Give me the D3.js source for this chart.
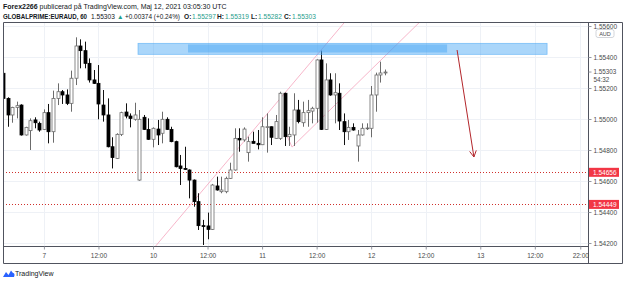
<!DOCTYPE html>
<html>
<head>
<meta charset="utf-8">
<script src="https://d3js.org/d3.v7.min.js"></script>
<style>
  body { margin: 0; background: #fff; }
  svg { display: block; font-family: "Liberation Sans", Arial, sans-serif; }
  .axis text { fill: #4a4a4a; font-size: 6.5px; }
  .axis line { stroke: #9598a1; }
  .axis path { display: none; }
</style>
</head>
<body>
<svg id="chart" width="625" height="283"></svg>
<script>
// EURAUD 60 min, bars from 6 May 15:00 to 12 May 03:00 (UTC), index 0 = 7 May 00:00
const firstBar = -9;
const opens = [1.55295,1.55133,1.55026,1.55075,1.55090,1.54897,1.54925,1.54994,1.54972,
  1.54933,1.55041,1.54918,1.55133,1.55176,1.55155,1.55101,1.55263,1.55471,1.55441,1.55359,1.55252,
  1.55230,1.55090,1.55026,1.54821,1.54746,1.54901,1.55045,1.55019,1.54998,1.54606,1.55011,1.54933,
  1.54869,1.54935,1.54908,1.54998,1.54933,1.54854,1.54697,1.54681,1.54671,1.54606,1.54467,1.54312,
  1.54310,1.54288,1.54568,1.54531,1.54531,1.54617,1.54671,1.54875,1.54865,1.54783,1.54856,1.54843,
  1.54834,1.54950,1.54950,1.54875,1.54875,1.55166,1.54886,1.54897,1.55058,1.54976,1.55041,1.55051,
  1.55069,1.55381,1.54933,1.55252,1.55155,1.55166,1.54983,1.54918,1.54946,1.54826,1.54897,1.54940,
  1.54940,1.55155,1.55284,1.55297];
const highs = [1.55299,1.55140,1.55079,1.55112,1.55095,1.54950,1.55004,1.55011,1.54983,
  1.55062,1.55097,1.55183,1.55230,1.55187,1.55191,1.55312,1.55527,1.55514,1.55499,1.55391,1.55316,
  1.55348,1.55187,1.55133,1.54882,1.54908,1.55047,1.55101,1.55036,1.55105,1.55058,1.55026,1.55004,
  1.54946,1.54994,1.55047,1.55011,1.54950,1.54860,1.54768,1.54821,1.54675,1.54610,1.54521,1.54349,
  1.54396,1.54581,1.54628,1.54628,1.54628,1.54718,1.54940,1.54940,1.54946,1.54886,1.54918,1.54929,
  1.55011,1.55036,1.54952,1.55026,1.55176,1.55170,1.54950,1.55166,1.55123,1.55112,1.55123,1.55079,
  1.55385,1.55441,1.55359,1.55295,1.55295,1.55230,1.55036,1.54994,1.54972,1.54929,1.54972,1.54972,
  1.55213,1.55299,1.55370,1.55319];
const lows = [1.55129,1.54950,1.54976,1.55004,1.54893,1.54893,1.54800,1.54940,1.54918,
  1.54929,1.54843,1.54847,1.55090,1.55097,1.55090,1.55047,1.55219,1.55327,1.55327,1.55235,1.55226,
  1.54998,1.54983,1.54817,1.54681,1.54742,1.54890,1.55004,1.54946,1.54989,1.54602,1.54929,1.54865,
  1.54817,1.54832,1.54843,1.54929,1.54850,1.54688,1.54574,1.54671,1.54488,1.54434,1.54284,1.54187,
  1.54224,1.54284,1.54538,1.54521,1.54521,1.54613,1.54667,1.54789,1.54854,1.54725,1.54843,1.54804,
  1.54832,1.54783,1.54832,1.54872,1.54865,1.54826,1.54826,1.54826,1.54972,1.54950,1.54950,1.54972,
  1.54976,1.54929,1.54929,1.55150,1.54972,1.54929,1.54832,1.54865,1.54925,1.54725,1.54893,1.54929,
  1.54882,1.55047,1.55235,1.55282];
const closes = [1.55133,1.55026,1.55075,1.55086,1.54897,1.54946,1.54989,1.54976,1.54929,
  1.55041,1.54918,1.55133,1.55176,1.55155,1.55101,1.55263,1.55471,1.55441,1.55359,1.55252,1.55230,
  1.55097,1.55026,1.54821,1.54751,1.54901,1.55041,1.55019,1.55004,1.55026,1.54998,1.54933,1.54869,
  1.54940,1.54897,1.54998,1.54933,1.54854,1.54692,1.54681,1.54675,1.54606,1.54467,1.54312,1.54306,
  1.54288,1.54574,1.54542,1.54542,1.54617,1.54671,1.54875,1.54865,1.54935,1.54854,1.54843,1.54834,
  1.54950,1.54950,1.54882,1.54983,1.55166,1.54886,1.54901,1.55058,1.54983,1.55041,1.55054,1.55069,
  1.55381,1.54933,1.55252,1.55155,1.55170,1.54987,1.54918,1.54946,1.54929,1.54897,1.54940,1.54942,
  1.55155,1.55284,1.55297,1.55303];

const timeTicks  = [0, 12, 24, 36, 48, 60, 72, 84, 96, 108, 118];
const timeLabels = ["7","12:00","10","12:00","11","12:00","12","12:00","13","12:00","22:00"];
const priceTicks = [1.542, 1.544, 1.546, 1.548, 1.550, 1.552, 1.554, 1.556];

const lastPrice = 1.55303;
const levels = [1.54656, 1.54449];

// drawings, in [bar index, price]
const zoneOuter = [[20.7, 1.55488], [110.7, 1.55417]];
const zoneInner = [[31.7, 1.55481], [88.7, 1.55429]];
const channelLines = [
  [[24.6, 1.54181], [66.2, 1.55626]],
  [[54.6, 1.54819], [82.7, 1.55626]],
  [[53.5, 1.54890], [54.6, 1.54819]]
];
const arrow = [[90.9, 1.55445], [94.6, 1.54755]];

const bars = opens.map((o, k) => ({i: firstBar + k, o: o, h: highs[k], l: lows[k], c: closes[k]}));

const plot = {left: 3, top: 22, right: 588, bottom: 246};
const svg = d3.select("#chart");

svg.append("rect").attr("width", 625).attr("height", 283).attr("fill", "#fff");

const x = d3.scaleLinear().domain([-9, 119.7]).range([plot.left, plot.right]);
const y = d3.scaleLinear().domain([1.542, 1.554]).range([243, 57]);

svg.append("clipPath").attr("id", "clip")
  .append("rect").attr("x", plot.left).attr("y", plot.top)
  .attr("width", plot.right - plot.left).attr("height", plot.bottom - plot.top);

// grid
const grid = svg.append("g").attr("clip-path", "url(#clip)");
grid.selectAll(".vg").data(timeTicks).enter().append("line")
  .attr("x1", d => Math.round(x(d)) + 0.5).attr("x2", d => Math.round(x(d)) + 0.5)
  .attr("y1", plot.top).attr("y2", plot.bottom)
  .attr("stroke", "#eef1f6");
grid.selectAll(".hg").data(priceTicks).enter().append("line")
  .attr("x1", plot.left).attr("x2", plot.right)
  .attr("y1", d => Math.round(y(d)) + 0.5).attr("y2", d => Math.round(y(d)) + 0.5)
  .attr("stroke", "#eef1f6");

const draw = svg.append("g").attr("clip-path", "url(#clip)");

// level lines
draw.selectAll(".lvl").data(levels).enter().append("line")
  .attr("x1", plot.left).attr("x2", plot.right)
  .attr("y1", d => Math.round(y(d)) + 0.5).attr("y2", d => Math.round(y(d)) + 0.5)
  .attr("stroke", "#d0312d").attr("stroke-dasharray", "1,2");

// channel
draw.selectAll(".ch").data(channelLines).enter().append("line")
  .attr("x1", d => x(d[0][0])).attr("y1", d => y(d[0][1]))
  .attr("x2", d => x(d[1][0])).attr("y2", d => y(d[1][1]))
  .attr("stroke", "#f5a3bd").attr("stroke-width", 0.8);

// candles
const bw = 3;
const cg = draw.append("g");
cg.selectAll(".wick").data(bars).enter().append("line")
  .attr("x1", d => Math.round(x(d.i)) + 0.5).attr("x2", d => Math.round(x(d.i)) + 0.5)
  .attr("y1", d => y(d.h)).attr("y2", d => y(d.l))
  .attr("stroke", d => d.c < d.o ? "#111" : "#6b6b6b");
cg.selectAll(".body").data(bars).enter().append("rect")
  .attr("x", d => Math.round(x(d.i)) - 1)
  .attr("width", bw)
  .attr("y", d => y(Math.max(d.o, d.c)))
  .attr("height", d => Math.max(0.8, Math.abs(y(d.o) - y(d.c))))
  .attr("fill", d => d.c < d.o ? "#000" : "#fff")
  .attr("stroke", d => d.c < d.o ? "#000" : "#6b6b6b")
  .attr("stroke-width", 0.8);

// zone boxes
draw.append("rect")
  .attr("x", x(zoneOuter[0][0])).attr("y", y(zoneOuter[0][1]))
  .attr("width", x(zoneOuter[1][0]) - x(zoneOuter[0][0]))
  .attr("height", y(zoneOuter[1][1]) - y(zoneOuter[0][1]))
  .attr("fill", "rgba(66,165,245,0.45)").attr("stroke", "rgba(66,165,245,0.6)").attr("stroke-width", 0.8);
draw.append("rect")
  .attr("x", x(zoneInner[0][0])).attr("y", y(zoneInner[0][1]))
  .attr("width", x(zoneInner[1][0]) - x(zoneInner[0][0]))
  .attr("height", y(zoneInner[1][1]) - y(zoneInner[0][1]))
  .attr("fill", "rgba(66,165,245,0.45)");

// arrow
const ax1 = x(arrow[0][0]), ay1 = y(arrow[0][1]), ax2 = x(arrow[1][0]), ay2 = y(arrow[1][1]);
const ang = Math.atan2(ay2 - ay1, ax2 - ax1);
const hl = 7;
draw.append("path")
  .attr("d", `M${ax1},${ay1}L${ax2},${ay2}` +
    `M${ax2 - hl * Math.cos(ang - 0.5)},${ay2 - hl * Math.sin(ang - 0.5)}L${ax2},${ay2}` +
    `L${ax2 - hl * Math.cos(ang + 0.5)},${ay2 - hl * Math.sin(ang + 0.5)}`)
  .attr("fill", "none").attr("stroke", "#b3262b").attr("stroke-width", 1);

// frame
svg.append("path")
  .attr("d", `M3.5,22.5H622.5V263.5H3.5Z M588.5,22.5V263.5 M3.5,246.5H588.5`)
  .attr("fill", "none").attr("stroke", "#50535e").attr("stroke-width", 1);

// axes
const yAxis = d3.axisRight(y).tickValues(priceTicks).tickFormat(d3.format(".5f")).tickSize(3).tickPadding(2);
svg.append("g").attr("class", "axis").attr("transform", "translate(588.5,0)").call(yAxis)
  .selectAll("text").attr("dy", "0.33em");

const xAxis = d3.axisBottom(x).tickValues(timeTicks).tickFormat((d, k) => timeLabels[k]).tickSize(3).tickPadding(4);
svg.append("g").attr("class", "axis").attr("transform", "translate(0,246.5)").call(xAxis);

// currency tag
const aud = svg.append("g");
aud.append("rect").attr("x", 596).attr("y", 29.5).attr("width", 18).attr("height", 8).attr("rx", 2)
  .attr("fill", "#fff").attr("stroke", "#c8cad0").attr("stroke-width", 0.8);
aud.append("text").attr("x", 605).attr("y", 35.8).attr("text-anchor", "middle")
  .attr("font-size", 5.5).attr("fill", "#4a4a4a").text("AUD");

// last price label
const lp = svg.append("g").attr("transform", `translate(588.5,${y(lastPrice)})`);
lp.append("line").attr("x2", 3).attr("stroke", "#9598a1");
lp.append("text").attr("x", 5).attr("y", 2.2).attr("font-size", 6.3).attr("fill", "#4a4a4a").text(d3.format(".5f")(lastPrice));
lp.append("text").attr("x", 5).attr("y", 9.5).attr("font-size", 6.3).attr("fill", "#4a4a4a").text("54:32");

// level labels
const lg = svg.selectAll(".lvlLab").data(levels).enter().append("g")
  .attr("transform", d => `translate(589,${y(d)})`);
lg.append("rect").attr("x", 0).attr("y", -4.5).attr("width", 30).attr("height", 9).attr("fill", "#f23645");
lg.append("text").attr("x", 4).attr("dy", "0.35em").attr("font-size", 6.5).attr("fill", "#fff")
  .text(d => d3.format(".5f")(d));

// header
const teal = "#1f9e8c";
const h1 = svg.append("text").attr("x", 3).attr("y", 9).attr("font-size", 7).attr("fill", "#131722");
h1.append("tspan").attr("font-weight", "bold").text("Forex2266");
h1.append("tspan").text(" publicerad på TradingView.com, Maj 12, 2021 03:05:30 UTC");

const h2 = svg.append("g").attr("font-size", 6.6).attr("fill", "#131722");
const seg = (xp, txt, opts = {}) => {
  const t = h2.append("text").attr("x", xp).attr("y", 19).text(txt);
  if (opts.bold) t.attr("font-weight", "bold");
  if (opts.fill) t.attr("fill", opts.fill);
  if (opts.len) t.attr("textLength", opts.len).attr("lengthAdjust", "spacingAndGlyphs");
  return t;
};
seg(3, "GLOBALPRIME:EURAUD, 60", {bold: true, len: 84});
seg(91, "1.55303");
seg(117, "▲", {fill: teal});
seg(125, "+0.00374 (+0.24%)", {len: 55});
seg(184, "O:", {bold: true});
seg(192, "1.55297", {fill: teal});
seg(217, "H:", {bold: true});
seg(225, "1.55319", {fill: teal});
seg(251, "L:", {bold: true});
seg(258, "1.55282", {fill: teal});
seg(284, "C:", {bold: true});
seg(292, "1.55303", {fill: teal});

// footer logo
const logo = svg.append("g").attr("transform", "translate(3,269)");
logo.append("path").attr("d", "M0,8 L3,3 L5.5,6 L8,1.5 L10,4 C11.5,4 12,6 11,8 Z").attr("fill", "#2962ff");
svg.append("text").attr("x", 15).attr("y", 276).attr("font-size", 7).attr("fill", "#131722").text("TradingView");
</script>
</body>
</html>
